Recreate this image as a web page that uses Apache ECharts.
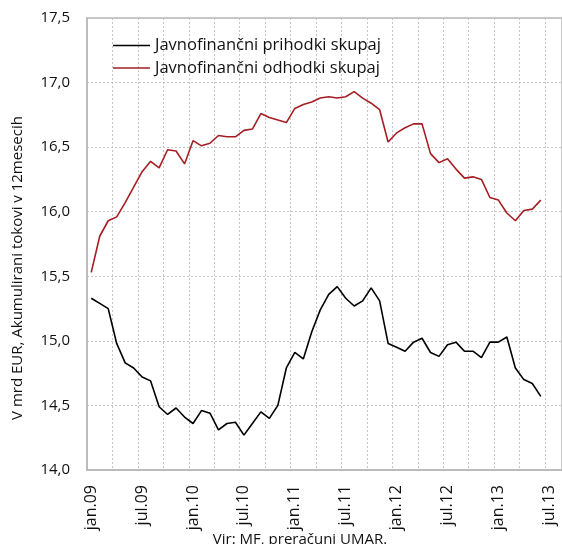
<!DOCTYPE html>
<html>
<head>
<meta charset="utf-8">
<script src="https://cdn.jsdelivr.net/npm/echarts@6/dist/echarts.min.js"></script>
<style>
  html, body { margin: 0; padding: 0; background: #fff; }
  #chart { width: 562px; height: 544px; }
</style>
</head>
<body>
<div id="chart"></div>
<script>
// Month abbreviations (Slovenian) and years for the category axis
var MONTHS = ['jan.', 'feb.', 'mar.', 'apr.', 'maj.', 'jun.', 'jul.', 'avg.', 'sep.', 'okt.', 'nov.', 'dec.'];
var YEARS = ['09', '10', '11', '12', '13'];
var AXIS_MONTHS = 56; // jan.09 .. avg.13

// Accumulated 12-month flows, bn EUR, jan.09 .. jun.13
var prihodki = [
  15.33, 15.29, 15.25, 14.98, 14.83, 14.79, 14.72, 14.69, 14.49, 14.43, 14.48, 14.41,
  14.36, 14.46, 14.44, 14.31, 14.36, 14.37, 14.27, 14.36, 14.45, 14.40, 14.50, 14.79,
  14.91, 14.86, 15.07, 15.24, 15.36, 15.42, 15.33, 15.27, 15.31, 15.41, 15.31, 14.98,
  14.95, 14.92, 14.99, 15.02, 14.91, 14.88, 14.97, 14.99, 14.92, 14.92, 14.87, 14.99,
  14.99, 15.03, 14.79, 14.70, 14.67, 14.57
];
var odhodki = [
  15.53, 15.81, 15.93, 15.96, 16.07, 16.19, 16.31, 16.39, 16.34, 16.48, 16.47, 16.37,
  16.55, 16.51, 16.53, 16.59, 16.58, 16.58, 16.63, 16.64, 16.76, 16.73, 16.71, 16.69,
  16.80, 16.83, 16.85, 16.88, 16.89, 16.88, 16.89, 16.93, 16.88, 16.84, 16.79, 16.54,
  16.61, 16.65, 16.68, 16.68, 16.45, 16.38, 16.41, 16.33, 16.26, 16.27, 16.25, 16.11,
  16.09, 15.99, 15.93, 16.01, 16.02, 16.09
];

var seriesNames = ['Javnofinančni prihodki skupaj', 'Javnofinančni odhodki skupaj'];
var yAxisTitle = 'V mrd EUR, Akumulirani tokovi v 12mesecih';
var sourceNote = 'Vir: MF, preračuni UMAR.';

var categories = [];
for (var i = 0; i < AXIS_MONTHS; i++) {
  categories.push(MONTHS[i % 12] + YEARS[Math.floor(i / 12)]);
}

var FONT = '"Open Sans", "Noto Sans", sans-serif';
var GRID_LINE = { color: '#c4c4c4', width: 1, type: [2, 2] };

var chart = echarts.init(document.getElementById('chart'), null, { renderer: 'canvas' });
chart.setOption({
  animation: false,
  backgroundColor: '#fff',
  textStyle: { fontFamily: FONT },
  grid: {
    left: 87, top: 18, width: 476, height: 452,
    show: true, borderColor: '#b8b8b8', borderWidth: 1.5, backgroundColor: 'transparent'
  },
  legend: {
    orient: 'vertical',
    left: 108, top: 32,
    itemGap: 5.5,
    itemWidth: 37, itemHeight: 1.6,
    icon: 'rect',
    textStyle: { fontFamily: FONT, fontSize: 16.5, color: '#111' },
    data: seriesNames
  },
  xAxis: {
    type: 'category',
    data: categories,
    boundaryGap: true,
    axisLine: { show: true, lineStyle: { color: '#b8b8b8', width: 1.5 } },
    axisTick: { show: false },
    axisLabel: {
      interval: 5, rotate: 90, margin: 15,
      fontFamily: FONT, fontSize: 16, color: '#111'
    },
    splitLine: { show: true, interval: 2, lineStyle: GRID_LINE }
  },
  yAxis: {
    type: 'value',
    min: 14, max: 17.5, interval: 0.5,
    axisLine: { show: true, lineStyle: { color: '#b8b8b8', width: 1.5 } },
    axisTick: { show: false },
    axisLabel: {
      margin: 17, fontFamily: FONT, fontSize: 15, color: '#111',
      formatter: function (v) { return v.toFixed(1).replace('.', ','); }
    },
    splitLine: { show: true, lineStyle: GRID_LINE }
  },
  series: [
    {
      name: seriesNames[0], type: 'line', data: prihodki,
      symbol: 'none', lineStyle: { color: '#000', width: 1.6 }, itemStyle: { color: '#000' }
    },
    {
      name: seriesNames[1], type: 'line', data: odhodki,
      symbol: 'none', lineStyle: { color: '#a51e24', width: 1.6 }, itemStyle: { color: '#a51e24' }
    }
  ],
  graphic: [
    {
      type: 'text', x: 18, y: 268, rotation: Math.PI / 2,
      style: {
        text: yAxisTitle, fontFamily: FONT, fontSize: 15, fill: '#111',
        textAlign: 'center', textVerticalAlign: 'middle'
      }
    },
    {
      type: 'text', x: 300, y: 540,
      style: {
        text: sourceNote, fontFamily: FONT, fontSize: 15, fill: '#111',
        textAlign: 'center', textVerticalAlign: 'middle'
      }
    }
  ]
});
</script>
</body>
</html>
